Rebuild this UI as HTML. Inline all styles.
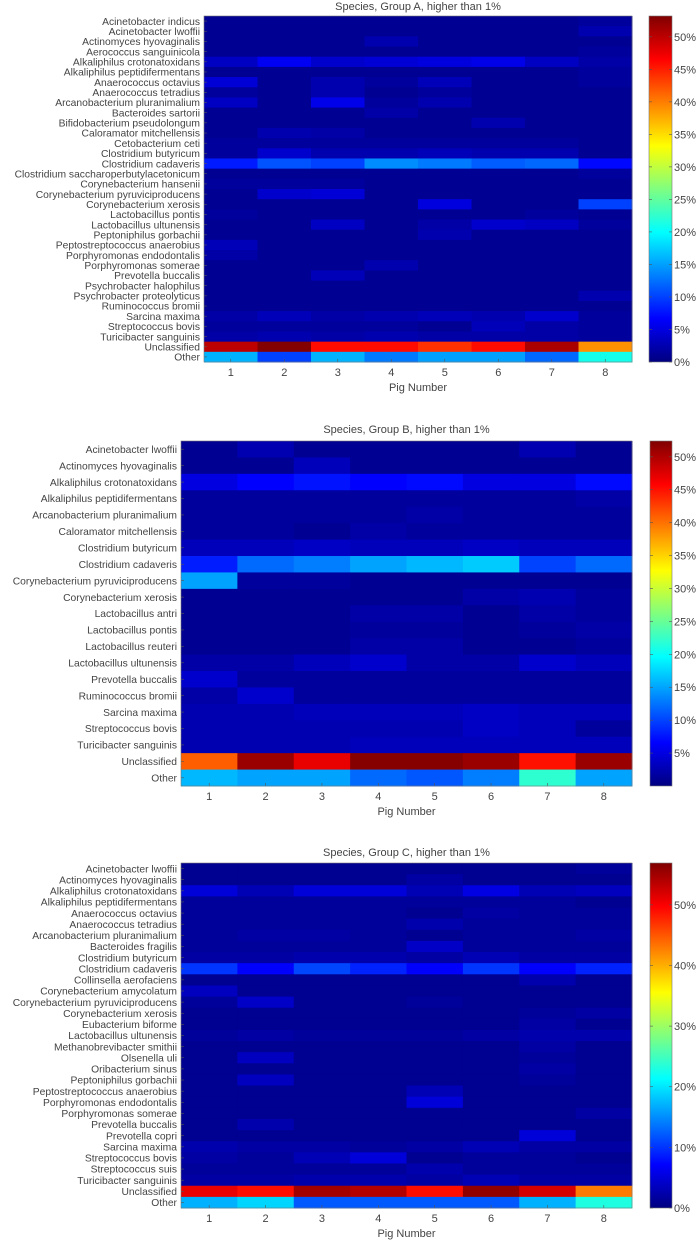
<!DOCTYPE html>
<html><head><meta charset="utf-8"><style>
html,body{margin:0;padding:0;background:#fff;}
svg{display:block;font-family:"Liberation Sans",sans-serif;}
</style></head><body>
<svg id="fig" width="698" height="1240" viewBox="0 0 698 1240">
<defs>
<linearGradient id="jet" x1="0" y1="1" x2="0" y2="0">
<stop offset="0" stop-color="#000080"/><stop offset="0.125" stop-color="#0000ff"/>
<stop offset="0.375" stop-color="#00ffff"/><stop offset="0.625" stop-color="#ffff00"/>
<stop offset="0.875" stop-color="#ff0000"/><stop offset="1" stop-color="#800000"/>
</linearGradient>
</defs>
</svg>
<script>
const pigs = ["1","2","3","4","5","6","7","8"];
const rowsA = ["Acinetobacter indicus","Acinetobacter lwoffii","Actinomyces hyovaginalis","Aerococcus sanguinicola","Alkaliphilus crotonatoxidans","Alkaliphilus peptidifermentans","Anaerococcus octavius","Anaerococcus tetradius","Arcanobacterium pluranimalium","Bacteroides sartorii","Bifidobacterium pseudolongum","Caloramator mitchellensis","Cetobacterium ceti","Clostridium butyricum","Clostridium cadaveris","Clostridium saccharoperbutylacetonicum","Corynebacterium hansenii","Corynebacterium pyruviciproducens","Corynebacterium xerosis","Lactobacillus pontis","Lactobacillus ultunensis","Peptoniphilus gorbachii","Peptostreptococcus anaerobius","Porphyromonas endodontalis","Porphyromonas somerae","Prevotella buccalis","Psychrobacter halophilus","Psychrobacter proteolyticus","Ruminococcus bromii","Sarcina maxima","Streptococcus bovis","Turicibacter sanguinis","Unclassified","Other"];
const valuesA = [
[1,1,1,1,1,1,1,1.5],
[1,1,1,1,1,1,1,2.5],
[1,1,1,2.5,1,1,1,1],
[1,1,1,1,1,1,1,1.5],
[3.5,6,4,4.5,5,5.5,3.5,2],
[1,1,1,1,1,1,1,1.5],
[4.5,1,2.5,1.5,3,1,1,1.5],
[1.5,1,2.5,1,1.5,1,1,1],
[3.5,1,5.5,1.5,2.5,1,1,1],
[1,1,1,2,1,1,1,1],
[1,1,1,1,1,2.5,1,1],
[1,2.5,2,1,1,1,1,1],
[1.5,1.5,1.5,1.5,1.5,1.5,1.5,1],
[1.5,4,2.5,2.5,3,2.5,2.5,1],
[8,11,10,14,13,11.5,12,7],
[1,1,1,1,1,1,1,1.5],
[1.5,1.5,1.5,1,1,1,1,1],
[1,4,4.5,1,1,1,1,1],
[1,1,1,1,5,1,1,10],
[1.5,1,1,1,1,1,1.5,1],
[1,1,3.5,1,2,4,3.5,1.5],
[1,1,1,1,2.5,1,1,1],
[3,1,1,1,1,1,1,1],
[2,1,1,1,1,1,1,1],
[1,1,1,2.5,1,1,1,1],
[1,1,3,1,1,1,1,1],
[1,1,1,1,1,1,1,1],
[1,1,1,1,1,1,1,2.5],
[1,1,1,1,1,1,1,1],
[2,3,2,2.5,3,2.5,4,1.5],
[1.5,1.5,1.5,1.5,1,3,2,1.5],
[2,2.5,2,2.5,2,2,2,1.5],
[50,53,46,46,44,46,51,39],
[16,10,16,13,15,15,12,21]];
const ticksA = [0,5,10,15,20,25,30,35,40,45,50];

const rowsB = ["Acinetobacter lwoffii","Actinomyces hyovaginalis","Alkaliphilus crotonatoxidans","Alkaliphilus peptidifermentans","Arcanobacterium pluranimalium","Caloramator mitchellensis","Clostridium butyricum","Clostridium cadaveris","Corynebacterium pyruviciproducens","Corynebacterium xerosis","Lactobacillus antri","Lactobacillus pontis","Lactobacillus reuteri","Lactobacillus ultunensis","Prevotella buccalis","Ruminococcus bromii","Sarcina maxima","Streptococcus bovis","Turicibacter sanguinis","Unclassified","Other"];
const valuesB = [
[1,2.5,1,1,1,1,2.5,1],
[1,1,3,1,1,1,1,1],
[5,6.5,7.5,6.5,7,5,5,7],
[1.5,1.5,1.5,1.5,1.5,1.5,1.5,2],
[1.5,1.5,1.5,1.5,2,1.5,1.5,1.5],
[1.5,1.5,1,2,1.5,1.5,1.5,1.5],
[3,3,3.5,3,3,3.5,3,3],
[8,12,13,15,16,17,10,12],
[15,1.5,1.5,1,1,1,1,1],
[1,1,1,1,1,2,2.5,1.5],
[1,1,1,2,2,1,2,1.5],
[1,1,1,1.5,1.5,1,1.5,2],
[1,1,1,2,2,1,1,1.5],
[2,2,3,4,2,2,4,3],
[4,1.5,1.5,1.5,1.5,1.5,1.5,1.5],
[2,4,1.5,1.5,1.5,1.5,1.5,1.5],
[2.5,2.5,3,3,3,3.5,3,3],
[2.5,2.5,2.5,2.5,2.5,3.5,3,1.5],
[2.5,2.5,2.5,3,3,3,3,3],
[41,51,47,52,52,51,45,51],
[16,15,15,12,11,13,22,15]];
const ticksB = [5,10,15,20,25,30,35,40,45,50];

const rowsC = ["Acinetobacter lwoffii","Actinomyces hyovaginalis","Alkaliphilus crotonatoxidans","Alkaliphilus peptidifermentans","Anaerococcus octavius","Anaerococcus tetradius","Arcanobacterium pluranimalium","Bacteroides fragilis","Clostridium butyricum","Clostridium cadaveris","Collinsella aerofaciens","Corynebacterium amycolatum","Corynebacterium pyruviciproducens","Corynebacterium xerosis","Eubacterium biforme","Lactobacillus ultunensis","Methanobrevibacter smithii","Olsenella uli","Oribacterium sinus","Peptoniphilus gorbachii","Peptostreptococcus anaerobius","Porphyromonas endodontalis","Porphyromonas somerae","Prevotella buccalis","Prevotella copri","Sarcina maxima","Streptococcus bovis","Streptococcus suis","Turicibacter sanguinis","Unclassified","Other"];
const valuesC = [
[1,1,1,1,1,1,1,1.5],
[1,1,1,1,2,1,1,1],
[5,3,5,5,3,5.5,3,3.5],
[1.5,1.5,1.5,1.5,1.5,1.5,1.5,1],
[1.5,1.5,1.5,1.5,1,2,1.5,1.5],
[1.5,1.5,1.5,1.5,2.5,1.5,1.5,1.5],
[1.5,2,2,1.5,1,1.5,1.5,2],
[1.5,1.5,1.5,1.5,4,1.5,1.5,1.5],
[2,2,2.5,2.5,2,3,2,2],
[10,7,11,9,7,10,7,9],
[1,1,1,1,1,1,2.5,1],
[3.5,1,1,1,1,1,1,1],
[1.5,4,1,1,1.5,1,1,1],
[1,1,1,1,1,1,1.5,2],
[1,1,1,1,1,1,2,1],
[1.5,2,1.5,1.5,1.5,2,2.5,2.5],
[1,1,1,1,1,1,2,1],
[1,3.5,1,1,1,1,1.5,1],
[1,1,1,1,1,1,2,1],
[1,3.5,1,1,1,1,1.5,1],
[1,1,1,1,3,1,1,1],
[1,1,1,1,5,1,1,1],
[1,1,1,1,1,1,1,2],
[1,2.5,1,1,1,1,1,1],
[1,1,1,1,1,1,5,1],
[2.5,2,2,1.5,2,3,2,2],
[2,1.5,3,5,1,1.5,1.5,1],
[1.5,1.5,1.5,1.5,2.5,1.5,1.5,1.5],
[2,2,2.5,2.5,2,3,2,2],
[51,49,55,54,49,56,52,43],
[17,19,12,12,12,12,17,23]];
const ticksC = [0,10,20,30,40,50];

const NS = "http://www.w3.org/2000/svg";
const svg = document.getElementById("fig");
function jet(t){
  t=Math.max(0,Math.min(1,t));
  function f(x){return Math.max(0,Math.min(1,x));}
  const r=f(Math.min(4*t-1.5,-4*t+4.5)), g=f(Math.min(4*t-0.5,-4*t+3.5)), b=f(Math.min(4*t+0.5,-4*t+2.5));
  return "rgb("+Math.round(r*255)+","+Math.round(g*255)+","+Math.round(b*255)+")";
}
function mk(tag, attrs, parent){
  const e=document.createElementNS(NS,tag);
  for(const k in attrs) e.setAttribute(k,attrs[k]);
  (parent||svg).appendChild(e); return e;
}
function panel(key, title, rows, vals, ticks, cfg){
  const g=mk("g",{});
  
  
  const nR=rows.length, nC=pigs.length;
  const xs=(c)=>cfg.x0+(cfg.x1-cfg.x0)*c/nC;
  const ys=(r)=>cfg.y0+(cfg.y1-cfg.y0)*r/nR;
  const t=mk("text",{x:(cfg.x0+cfg.x1)/2,y:cfg.ty,"text-anchor":"middle","font-size":"11",fill:"#444"},g);
  t.textContent=title;
  
  
  for(let r=0;r<nR;r++){
    for(let c=0;c<nC;c++){
      const rc=mk("rect",{x:xs(c),y:ys(r),width:xs(c+1)-xs(c)+0.5,height:ys(r+1)-ys(r)+0.5,fill:jet(vals[r][c]/cfg.max)},g);
      
      
    }
    const lb=mk("text",{x:cfg.x0-4,y:(ys(r)+ys(r+1))/2+3.7,"text-anchor":"end","font-size":cfg.fs,fill:"#444"},g);
    lb.textContent=rows[r];
    
    
    mk("line",{x1:cfg.x0,x2:cfg.x0+3,y1:(ys(r)+ys(r+1))/2,y2:(ys(r)+ys(r+1))/2,stroke:"#555","stroke-width":"0.6"},g);
  }
  for(let c=0;c<nC;c++){
    const cx=(xs(c)+xs(c+1))/2;
    mk("line",{x1:cx,x2:cx,y1:cfg.y1,y2:cfg.y1-3,stroke:"#555","stroke-width":"0.6"},g);
    const tl=mk("text",{x:cx,y:cfg.y1+14,"text-anchor":"middle","font-size":"11",fill:"#444"},g);
    tl.textContent=pigs[c];
    
    
  }
  const fr=mk("rect",{x:cfg.x0,y:cfg.y0,width:cfg.x1-cfg.x0,height:cfg.y1-cfg.y0,fill:"none",stroke:"#777","stroke-width":"0.6"},g);
  
  
  const xl=mk("text",{x:(cfg.x0+cfg.x1)/2,y:cfg.y1+29,"text-anchor":"middle","font-size":"11",fill:"#444"},g);
  xl.textContent="Pig Number";
  
  
  const cb=mk("rect",{x:cfg.cx0,y:cfg.y0,width:cfg.cx1-cfg.cx0,height:cfg.y1-cfg.y0,fill:"url(#jet)",stroke:"#777","stroke-width":"0.6"},g);
  
  
  const cy=(v)=>cfg.y1-(cfg.y1-cfg.y0)*v/cfg.max;
  ticks.forEach(v=>{
    mk("line",{x1:cfg.cx0,x2:cfg.cx0+3,y1:cy(v),y2:cy(v),stroke:"#555","stroke-width":"0.6"},g);
    mk("line",{x1:cfg.cx1,x2:cfg.cx1-3,y1:cy(v),y2:cy(v),stroke:"#555","stroke-width":"0.6"},g);
    const cl=mk("text",{x:cfg.cx1+2,y:cy(v)+4,"font-size":"11",fill:"#444"},g);
    cl.textContent=v+"%";
    
    
  });
}
panel("a","Species, Group A, higher than 1%",rowsA,valuesA,ticksA,{x0:204,x1:632,y0:16,y1:362,cx0:649,cx1:672,max:53.2,ty:10,fs:"10.3"});
panel("b","Species, Group B, higher than 1%",rowsB,valuesB,ticksB,{x0:181,x1:632,y0:441,y1:786,cx0:650,cx1:672,max:52.4,ty:433,fs:"10.3"});
panel("c","Species, Group C, higher than 1%",rowsC,valuesC,ticksC,{x0:181,x1:632,y0:863,y1:1208,cx0:650,cx1:672,max:56.9,ty:856,fs:"10.3"});
</script>
</body></html>
